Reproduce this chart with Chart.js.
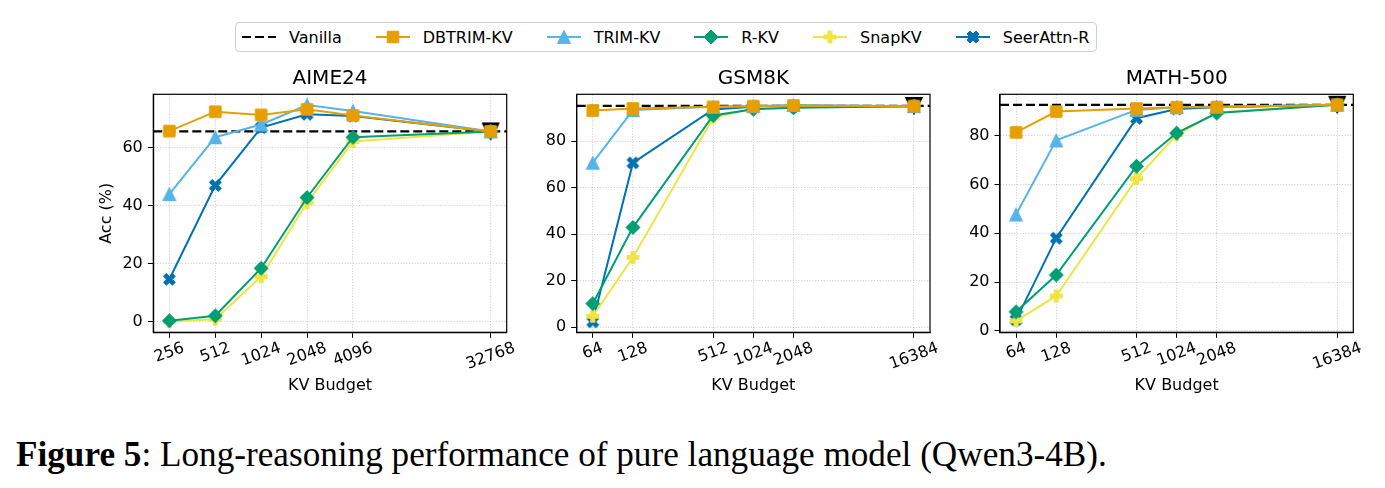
<!DOCTYPE html>
<html>
<head>
<meta charset="utf-8">
<script src="https://cdn.jsdelivr.net/npm/chart.js@4.4.0/dist/chart.umd.min.js"></script>
<style>
  body { margin: 0; background: #fff; width: 1385px; height: 488px; position: relative; overflow: hidden;
         font-family: "DejaVu Sans", sans-serif; }
  canvas.panel { position: absolute; top: 60px; }
  #legend { position: absolute; left: 235px; top: 22px; height: 30px; box-sizing: border-box;
            border: 1px solid #d0d0d0; border-radius: 4px; background: #fff; z-index: 2;
            display: flex; align-items: center; padding: 0 7px 0 6px; font-size: 16px; color: #000; white-space: nowrap; }
  .item { display: flex; align-items: center; margin-right: 34px; }
  .item:last-child { margin-right: 0; }
  .item canvas { margin-right: 13px; }
  #caption { position: absolute; left: 16px; top: 435px; font-family: "Liberation Serif", serif;
             font-size: 35px; color: #000; white-space: nowrap; }
</style>
</head>
<body>
<div id="legend"></div>
<canvas id="c1" class="panel"></canvas>
<canvas id="c2" class="panel"></canvas>
<canvas id="c3" class="panel"></canvas>
<div id="caption"><b>Figure 5</b>: Long-reasoning performance of pure language model (Qwen3-4B).</div>

<script>
// Methods (legend order) and their styles
const methods = ["DBTRIM-KV", "TRIM-KV", "R-KV", "SnapKV", "SeerAttn-R"];
const methodColors = ["#E69F00", "#56B4E9", "#009E73", "#F0E442", "#0072B2"];
const methodMarkers = ["square", "triUp", "diamond", "plus", "cross"];

// AIME24
const aimeBudgets = [256, 512, 1024, 2048, 4096, 32768];
const aimeVanilla = 65.6;
const aimeDbtrim = [65.7, 72.4, 71.3, 73.2, 71.1, 65.6];
const aimeTrim   = [44.0, 63.6, 68.0, 74.7, 72.6, 65.6];
const aimeRkv    = [0.3, 2.0, 18.4, 42.8, 63.6, 65.6];
const aimeSnap   = [0.0, 0.8, 15.5, 41.0, 62.1, 65.6];
const aimeSeer   = [14.6, 47.0, 66.9, 71.5, 70.9, 65.6];
const aimeYTicks = [0, 20, 40, 60];
const aimeYRange = [-3.7, 78.4];

// GSM8K
const gsmBudgets = [64, 128, 512, 1024, 2048, 16384];
const gsmVanilla = 95.1;
const gsmDbtrim = [93.1, 94.0, 94.7, 95.0, 95.3, 95.0];
const gsmTrim   = [70.7, 93.3, 94.7, 95.0, 95.5, 95.0];
const gsmRkv    = [10.1, 42.9, 91.0, 93.7, 94.3, 95.0];
const gsmSnap   = [4.7, 30.0, 90.0, 94.0, 94.7, 95.0];
const gsmSeer   = [2.3, 70.6, 93.6, 94.7, 95.0, 95.0];
const gsmYTicks = [0, 20, 40, 60, 80];
const gsmYRange = [-2.2, 100.1];

// MATH-500
const mathBudgets = [64, 128, 512, 1024, 2048, 16384];
const mathVanilla = 92.7;
const mathDbtrim = [81.4, 89.9, 91.2, 91.7, 91.7, 92.7];
const mathTrim   = [47.7, 78.1, 90.6, 91.7, 92.0, 92.7];
const mathRkv    = [7.8, 22.9, 67.5, 81.1, 89.3, 92.7];
const mathSnap   = [4.1, 14.3, 62.4, 80.4, 89.5, 92.7];
const mathSeer   = [4.5, 38.0, 87.2, 91.0, 91.7, 92.7];
const mathYTicks = [0, 20, 40, 60, 80];
const mathYRange = [-0.6, 97.0];

const panels = [
  { id: "c1", title: "AIME24", budgets: aimeBudgets, vanilla: aimeVanilla,
    values: [aimeDbtrim, aimeTrim, aimeRkv, aimeSnap, aimeSeer],
    yTicks: aimeYTicks, yRange: aimeYRange, yLabel: "Acc (%)",
    box: { left: 88, width: 440, axisW: 65.3, padR: 21.3 } },
  { id: "c2", title: "GSM8K", budgets: gsmBudgets, vanilla: gsmVanilla,
    values: [gsmDbtrim, gsmTrim, gsmRkv, gsmSnap, gsmSeer],
    yTicks: gsmYTicks, yRange: gsmYRange, yLabel: null,
    box: { left: 530, width: 420, axisW: 46.7, padR: 20 } },
  { id: "c3", title: "MATH-500", budgets: mathBudgets, vanilla: mathVanilla,
    values: [mathDbtrim, mathTrim, mathRkv, mathSnap, mathSeer],
    yTicks: mathYTicks, yRange: mathYRange, yLabel: null,
    box: { left: 955, width: 430, axisW: 45, padR: 31.7 } }
];

const PANEL_H = 345;
const TICK_FONT = 16;
const markerSizes = { square: 11.5, triUp: 13, diamond: 14, plus: 12, cross: 12, triDown: 17 };

// matplotlib-like marker shapes
function drawMarker(ctx, kind, color, cx, cy, s) {
  const h = s / 2;
  let pts;
  if (kind === "square") pts = [[-h, -h], [h, -h], [h, h], [-h, h]];
  else if (kind === "diamond") pts = [[0, -h], [h, 0], [0, h], [-h, 0]];
  else if (kind === "triUp") pts = [[0, -h], [h, h], [-h, h]];
  else if (kind === "triDown") pts = [[-h, -h], [h, -h], [0, h]];
  else if (kind === "plus") {
    pts = [[-1, -3], [1, -3], [1, -1], [3, -1], [3, 1], [1, 1], [1, 3], [-1, 3], [-1, 1], [-3, 1], [-3, -1], [-1, -1]]
      .map(p => [p[0] * s / 6, p[1] * s / 6]);
  } else {
    pts = [[-1, -2], [0, -1], [1, -2], [2, -1], [1, 0], [2, 1], [1, 2], [0, 1], [-1, 2], [-2, 1], [-1, 0], [-2, -1]]
      .map(p => [p[0] * s / 4, p[1] * s / 4]);
  }
  ctx.save();
  ctx.fillStyle = color;
  ctx.strokeStyle = color;
  ctx.lineWidth = 1;
  ctx.beginPath();
  pts.forEach((p, i) => i ? ctx.lineTo(cx + p[0], cy + p[1]) : ctx.moveTo(cx + p[0], cy + p[1]));
  ctx.closePath();
  ctx.fill();
  ctx.stroke();
  ctx.restore();
}

function markerImage(kind, color) {
  const s = markerSizes[kind];
  const c = document.createElement("canvas");
  c.width = c.height = Math.ceil(s + 3);
  drawMarker(c.getContext("2d"), kind, color, c.width / 2, c.height / 2, s);
  return c;
}

// rotated x tick labels, centred under each tick like matplotlib
const xTickLabels = {
  id: "xTickLabels",
  afterDraw(chart) {
    const xs = chart.scales.x, area = chart.chartArea, ctx = chart.ctx;
    const ang = 20 * Math.PI / 180;
    ctx.save();
    ctx.font = TICK_FONT + "px 'DejaVu Sans'";
    ctx.fillStyle = "#000";
    ctx.textAlign = "center";
    ctx.textBaseline = "middle";
    xs.ticks.forEach(t => {
      const label = String(t.value);
      const w = ctx.measureText(label).width, h = TICK_FONT * 1.17;
      const H = w * Math.sin(ang) + h * Math.cos(ang);
      const x = xs.getPixelForValue(t.value);
      const y = area.bottom + 5.5 + 1 + H / 2;
      ctx.save();
      ctx.translate(x, y);
      ctx.rotate(-ang);
      ctx.fillText(label, 0, 0);
      ctx.restore();
    });
    ctx.restore();
  }
};

// full box around the axes
const frame = {
  id: "frame",
  afterDatasetsDraw(chart) {
    const a = chart.chartArea, ctx = chart.ctx;
    ctx.save();
    ctx.strokeStyle = "#000";
    ctx.lineWidth = 1.2;
    ctx.strokeRect(a.left, a.top, a.right - a.left, a.bottom - a.top);
    ctx.restore();
  }
};

Chart.defaults.font.family = "'DejaVu Sans', sans-serif";
Chart.defaults.color = "#000";

const gridOpts = { color: "rgba(0,0,0,0.22)", lineWidth: 0.8, tickLength: 5.5, tickColor: "#000", tickWidth: 1, tickBorderDash: [] };
const borderOpts = { display: true, color: "#000", width: 1.2, dash: [1.2, 1.6] };

function drawPanel(p) {
  const canvas = document.getElementById(p.id);
  canvas.width = p.box.width;
  canvas.height = PANEL_H;
  canvas.style.left = p.box.left + "px";

  const n = p.budgets.length;
  const spread = Math.pow(p.budgets[n - 1] / p.budgets[0], 0.05);
  const xMin = p.budgets[0] / spread, xMax = p.budgets[n - 1] * spread;

  const datasets = [];
  // Vanilla: horizontal dashed reference line across the axes + full-cache marker
  datasets.push({
    label: "Vanilla", data: [{ x: xMin, y: p.vanilla }, { x: xMax, y: p.vanilla }],
    borderColor: "#000", borderWidth: 2.2, borderDash: [9, 4], pointRadius: 0, order: 10
  });
  datasets.push({
    label: "Vanilla full", data: [{ x: p.budgets[n - 1], y: p.vanilla }], showLine: false,
    pointStyle: markerImage("triDown", "#000"), pointRadius: 8, order: 9
  });
  methods.forEach((m, k) => {
    datasets.push({
      label: m, data: p.budgets.map((b, i) => ({ x: b, y: p.values[k][i] })),
      borderColor: methodColors[k], backgroundColor: methodColors[k], borderWidth: 2,
      pointStyle: markerImage(methodMarkers[k], methodColors[k]), pointRadius: 7,
      tension: 0, order: k
    });
  });

  new Chart(canvas, {
    type: "line",
    data: { datasets },
    plugins: [xTickLabels, frame],
    options: {
      responsive: false, animation: false, devicePixelRatio: 1,
      layout: { padding: { left: 0, right: p.box.padR, top: 0, bottom: 0 } },
      plugins: {
        legend: { display: false },
        tooltip: { enabled: false },
        title: { display: true, text: p.title, fullSize: false, color: "#000",
                 font: { size: 20, weight: "normal" }, padding: { top: 6.3, bottom: 4.0 } }
      },
      scales: {
        x: {
          type: "logarithmic", min: xMin, max: xMax,
          afterBuildTicks: s => { s.ticks = p.budgets.map(v => ({ value: v })); },
          afterFit: s => { s.height = 72.7; },
          ticks: { display: false },
          grid: gridOpts, border: borderOpts,
          title: { display: true, text: "KV Budget", color: "#000", font: { size: 16 }, padding: { top: 0, bottom: 9.4 } }
        },
        y: {
          type: "linear", min: p.yRange[0], max: p.yRange[1],
          afterBuildTicks: s => { s.ticks = p.yTicks.map(v => ({ value: v })); },
          afterFit: s => { s.width = p.box.axisW; },
          ticks: { font: { size: TICK_FONT }, color: "#000", padding: 5 },
          grid: gridOpts, border: borderOpts,
          title: { display: !!p.yLabel, text: p.yLabel || "", color: "#000", font: { size: 16 }, padding: { top: 9.4, bottom: 0 } }
        }
      }
    }
  });
}

panels.forEach(drawPanel);

// legend
const legend = document.getElementById("legend");
["Vanilla"].concat(methods).forEach((name, i) => {
  const item = document.createElement("div");
  item.className = "item";
  const c = document.createElement("canvas");
  c.width = 34; c.height = 20;
  const ctx = c.getContext("2d");
  ctx.lineWidth = 2.2;
  if (i === 0) {
    ctx.strokeStyle = "#000";
    ctx.setLineDash([9, 4]);
    ctx.beginPath(); ctx.moveTo(0, 10); ctx.lineTo(34, 10); ctx.stroke();
  } else {
    const col = methodColors[i - 1];
    ctx.strokeStyle = col;
    ctx.beginPath(); ctx.moveTo(0, 10); ctx.lineTo(34, 10); ctx.stroke();
    drawMarker(ctx, methodMarkers[i - 1], col, 17, 10, markerSizes[methodMarkers[i - 1]]);
  }
  const span = document.createElement("span");
  span.textContent = name;
  item.appendChild(c);
  item.appendChild(span);
  legend.appendChild(item);
});

// stretch the caption to the width it has in the figure
const cap = document.getElementById("caption");
const capW = cap.getBoundingClientRect().width;
const capSize = 35 * 1091 / capW;
cap.style.fontSize = capSize + "px";
cap.style.top = (467 - capSize * 0.913) + "px";
</script>
</body>
</html>
